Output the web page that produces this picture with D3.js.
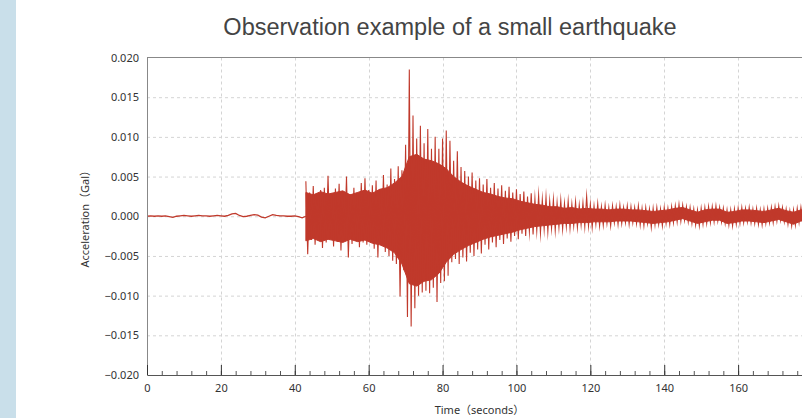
<!DOCTYPE html>
<html>
<head>
<meta charset="utf-8">
<script src="https://cdn.jsdelivr.net/npm/d3@7"></script>
<style>
  body { margin: 0; background: #fff; }
  svg { display: block; }
  .tick text { font-family: "Noto Sans", "Noto Sans CJK JP", sans-serif; font-size: 11px; fill: #333; }
</style>
</head>
<body>
<svg id="chart" width="802" height="418"></svg>
<script>
// quiet record before the P wave, one sample per second (t = 0..42)
var baseline = [0.0000, 0.00005, 0.0000, 0.00005, 0.0000, 0.00005, -0.00005, -0.00015, 0.0000, 0.00005,
  0.0001, 0.00005, 0.0000, 0.00005, 0.0001, 0.00005, 0.00005, 0.0000, 0.00005, 0.0001,
  0.00005, 0.0000, 0.0001, 0.0003, 0.00035, 0.0001, -0.00005, 0.0000, 0.0001, 0.0002,
  0.00015, -0.0001, -0.0002, 0.0000, 0.0002, 0.0001, 0.00005, 0.00005, 0.0000, 0.0000,
  0.00005, -0.00005, -0.0002];

// after the arrival: per-second positive and negative peaks (t = 43..179)
var shakeStart = 43;
var peakHigh = [0.0044, 0.0030, 0.0038, 0.0027, 0.0033, 0.0036, 0.0051, 0.0029, 0.0035, 0.0041,
  0.0031, 0.0050, 0.0028, 0.0036, 0.0030, 0.0042, 0.0048, 0.0033, 0.0039, 0.0045,
  0.0034, 0.0052, 0.0040, 0.0060, 0.0047, 0.0063, 0.0058, 0.0090, 0.0185, 0.0127,
  0.0098, 0.0114, 0.0092, 0.0110, 0.0085, 0.0100, 0.0085, 0.0098, 0.0108, 0.0095,
  0.0070, 0.0082, 0.0062, 0.0057, 0.0050, 0.0055, 0.0045, 0.0048, 0.0040, 0.0047,
  0.0036, 0.0042, 0.0035, 0.0039, 0.0032, 0.0037, 0.0030, 0.0034, 0.0028, 0.0031,
  0.0025, 0.0029, 0.0022, 0.0026, 0.0021, 0.0024, 0.0019, 0.0021, 0.0017, 0.0020,
  0.0016, 0.0019, 0.0015, 0.0018, 0.0014, 0.0017, 0.0025, 0.0015, 0.0013, 0.0016,
  0.0012, 0.0014, 0.0011, 0.0013, 0.0012, 0.0014, 0.0011, 0.0013, 0.0012, 0.0011,
  0.0013, 0.0010, 0.0011, 0.0009, 0.0010, 0.0011, 0.0009, 0.0011, 0.0010, 0.0012,
  0.0013, 0.0015, 0.0014, 0.0012, 0.0011, 0.0009, 0.0008, 0.0010, 0.0011, 0.0012,
  0.0012, 0.0013, 0.0011, 0.0010, 0.0008, 0.0008, 0.0009, 0.0010, 0.0011, 0.0010,
  0.0011, 0.0009, 0.0010, 0.0008, 0.0009, 0.0010, 0.0011, 0.0012, 0.0013, 0.0011,
  0.0009, 0.0007, 0.0008, 0.0010, 0.0011, 0.0010, 0.0010];
var peakLow = [-0.0048, -0.0030, -0.0036, -0.0028, -0.0040, -0.0033, -0.0029, -0.0038, -0.0032, -0.0043,
  -0.0030, -0.0052, -0.0035, -0.0031, -0.0039, -0.0033, -0.0036, -0.0030, -0.0041, -0.0052,
  -0.0037, -0.0045, -0.0050, -0.0056, -0.0060, -0.0101, -0.0068, -0.0127, -0.0139, -0.0116,
  -0.0100, -0.0096, -0.0094, -0.0097, -0.0090, -0.0108, -0.0084, -0.0082, -0.0075, -0.0058,
  -0.0054, -0.0060, -0.0052, -0.0057, -0.0046, -0.0050, -0.0042, -0.0047, -0.0036, -0.0042,
  -0.0033, -0.0039, -0.0030, -0.0035, -0.0028, -0.0032, -0.0025, -0.0029, -0.0022, -0.0025,
  -0.0019, -0.0023, -0.0018, -0.0021, -0.0016, -0.0019, -0.0015, -0.0018, -0.0014, -0.0016,
  -0.0013, -0.0015, -0.0012, -0.0014, -0.0011, -0.0013, -0.0012, -0.0014, -0.0010, -0.0012,
  -0.0011, -0.0009, -0.0012, -0.0008, -0.0010, -0.0009, -0.0008, -0.0010, -0.0008, -0.0009,
  -0.0011, -0.0012, -0.0009, -0.0014, -0.0011, -0.0010, -0.0012, -0.0009, -0.0010, -0.0008,
  -0.0007, -0.0006, -0.0005, -0.0007, -0.0009, -0.0011, -0.0012, -0.0010, -0.0009, -0.0008,
  -0.0007, -0.0006, -0.0007, -0.0009, -0.0011, -0.0012, -0.0010, -0.0009, -0.0008, -0.0007,
  -0.0008, -0.0009, -0.0010, -0.0011, -0.0009, -0.0008, -0.0008, -0.0006, -0.0005, -0.0007,
  -0.0010, -0.0012, -0.0011, -0.0008, -0.0007, -0.0008, -0.0009];

// extent of the dense (solid-looking) part of the trace, every 2 s (t = 43, 45, .. 179)
var coreStep = 2;
var coreHigh = [0.0030, 0.0027, 0.0031, 0.0028, 0.0030, 0.0032, 0.0027, 0.0030, 0.0033, 0.0029,
  0.0034, 0.0036, 0.0042, 0.0050, 0.0075, 0.0078, 0.0072, 0.0070, 0.0066, 0.0060,
  0.0050, 0.0043, 0.0038, 0.0034, 0.0030, 0.0028, 0.0025, 0.0023, 0.0022, 0.0019,
  0.0017, 0.0015, 0.0014, 0.0012, 0.0012, 0.0010, 0.0011, 0.0009, 0.0010, 0.0009,
  0.0009, 0.0008, 0.0009, 0.0009, 0.0008, 0.0008, 0.0007, 0.0006, 0.0007, 0.0008,
  0.0010, 0.0011, 0.0008, 0.0005, 0.0008, 0.0009, 0.0009, 0.0005, 0.0006, 0.0008,
  0.0008, 0.0007, 0.0006, 0.0008, 0.0010, 0.0007, 0.0005, 0.0008, 0.0008];
var coreLow = [-0.0031, -0.0028, -0.0032, -0.0029, -0.0031, -0.0033, -0.0029, -0.0032, -0.0030, -0.0034,
  -0.0036, -0.0040, -0.0046, -0.0060, -0.0085, -0.0088, -0.0082, -0.0080, -0.0072, -0.0058,
  -0.0048, -0.0042, -0.0037, -0.0033, -0.0029, -0.0026, -0.0024, -0.0022, -0.0020, -0.0017,
  -0.0015, -0.0013, -0.0012, -0.0011, -0.0010, -0.0009, -0.0009, -0.0008, -0.0008, -0.0007,
  -0.0007, -0.0007, -0.0006, -0.0006, -0.0006, -0.0007, -0.0008, -0.0009, -0.0008, -0.0007,
  -0.0005, -0.0003, -0.0006, -0.0009, -0.0007, -0.0005, -0.0005, -0.0009, -0.0008, -0.0006,
  -0.0006, -0.0007, -0.0008, -0.0006, -0.0004, -0.0007, -0.0010, -0.0006, -0.0006];

var xTicks = [0, 20, 40, 60, 80, 100, 120, 140, 160];
var xMinor = d3.range(0, 181, 4);
var yTicks = [-0.020, -0.015, -0.010, -0.005, 0.000, 0.005, 0.010, 0.015, 0.020];

var chartTitle = "Observation example of a small earthquake";
var xTitle = "Time\uFF08seconds\uFF09";
var yTitle = "Acceleration\uFF08Gal\uFF09";

// layout
var margin = {top: 57.5, right: -10, bottom: 43, left: 147},
    W = 802, H = 418,
    width = W - margin.left - margin.right,
    height = H - margin.top - margin.bottom;

var red = "#c0392b";

var svg = d3.select("#chart");

// light blue strip on the left edge of the page
svg.append("rect").attr("x", 0).attr("y", 0).attr("width", 16).attr("height", H).attr("fill", "#c9dfea");

svg.append("text")
    .attr("x", 450).attr("y", 35)
    .attr("text-anchor", "middle")
    .style("font-family", "'Liberation Sans', Arial, sans-serif")
    .style("font-size", "23.5px")
    .style("fill", "#444")
    .text(chartTitle);

var g = svg.append("g").attr("transform", "translate(" + margin.left + "," + margin.top + ")");

var x = d3.scaleLinear().domain([0, 180]).range([0, width]);
var y = d3.scaleLinear().domain([-0.02, 0.02]).range([height, 0]);

// grid
g.append("g").selectAll("line")
    .data(yTicks.filter(function (d) { return Math.abs(d) < 0.02; }))
  .enter().append("line")
    .attr("x1", 0).attr("x2", width)
    .attr("y1", function (d) { return y(d) + 0.5; }).attr("y2", function (d) { return y(d) + 0.5; })
    .attr("stroke", "#d4d4d4").attr("stroke-dasharray", "3,3");
g.append("g").selectAll("line")
    .data(xTicks.filter(function (d) { return d > 0; }))
  .enter().append("line")
    .attr("y1", 0).attr("y2", height)
    .attr("x1", function (d) { return Math.round(x(d)) + 0.5; }).attr("x2", function (d) { return Math.round(x(d)) + 0.5; })
    .attr("stroke", "#d4d4d4").attr("stroke-dasharray", "3,3");

g.append("clipPath").attr("id", "clip")
  .append("rect").attr("width", width).attr("height", height);

var plot = g.append("g").attr("clip-path", "url(#clip)");

var line = d3.line()
    .x(function (d) { return x(d[0]); })
    .y(function (d) { return y(d[1]); });

// quiet part as a thin trace
var quiet = baseline.map(function (v, i) { return [i, v]; });
quiet.push([shakeStart, 0]);
plot.append("path")
    .datum(quiet)
    .attr("fill", "none")
    .attr("stroke", red)
    .attr("stroke-width", 1.3)
    .attr("d", line);

// dense body of the shaking
var core = coreHigh.map(function (v, i) { return {t: shakeStart + i * coreStep, hi: v, lo: coreLow[i]}; });
plot.append("path")
    .datum(core)
    .attr("fill", red)
    .attr("stroke", red)
    .attr("stroke-width", 1)
    .attr("d", d3.area()
      .x(function (d) { return x(d.t); })
      .y0(function (d) { return y(d.lo); })
      .y1(function (d) { return y(d.hi); }));

// peaks: trace swings from the positive to the negative peak of each second
var swings = [];
peakHigh.forEach(function (v, i) {
  swings.push([shakeStart + i, v]);
  swings.push([shakeStart + i + 0.5, peakLow[i]]);
});
plot.append("path")
    .datum(swings)
    .attr("fill", "none")
    .attr("stroke", red)
    .attr("stroke-width", 1.1)
    .attr("stroke-linejoin", "miter")
    .attr("stroke-miterlimit", 20)
    .attr("d", line);

// top frame
g.append("line").attr("x1", 0).attr("x2", width).attr("y1", 0).attr("y2", 0).attr("stroke", "#888");

// axes
var yAxis = g.append("g")
    .call(d3.axisLeft(y).tickValues(yTicks).tickSize(0).tickPadding(8).tickFormat(d3.format(".3f")));
yAxis.select(".domain").attr("stroke", "#888");

var xMinorAxis = g.append("g")
    .attr("transform", "translate(0," + height + ")")
    .call(d3.axisBottom(x).tickValues(xMinor).tickSizeInner(-4).tickSizeOuter(0).tickFormat(""));
xMinorAxis.selectAll(".tick line").attr("stroke", "#555");
xMinorAxis.select(".domain").remove();

var xAxis = g.append("g")
    .attr("transform", "translate(0," + height + ")")
    .call(d3.axisBottom(x).tickValues(xTicks).tickSizeInner(-10).tickSizeOuter(0).tickPadding(9));
xAxis.selectAll(".tick line").attr("stroke", "#333");
xAxis.select(".domain").attr("stroke", "#555");

svg.append("text")
    .attr("transform", "translate(89," + (margin.top + height / 2) + ") rotate(-90)")
    .attr("text-anchor", "middle")
    .style("font-family", "'Noto Sans', 'Noto Sans CJK JP', sans-serif")
    .style("font-size", "11px")
    .style("fill", "#333")
    .text(yTitle);

svg.append("text")
    .attr("x", margin.left + width / 2).attr("y", 414)
    .attr("text-anchor", "middle")
    .style("font-family", "'Noto Sans', 'Noto Sans CJK JP', sans-serif")
    .style("font-size", "11px")
    .style("fill", "#333")
    .text(xTitle);
</script>
</body>
</html>
